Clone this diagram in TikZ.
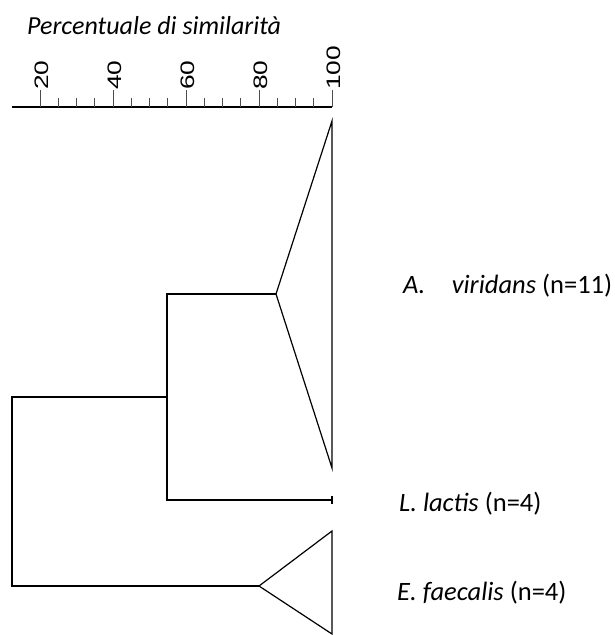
\documentclass[tikz,border=0pt]{standalone}
\usepackage{fontspec}
\setmainfont{Carlito}
\newfontfamily\axisfont{Liberation Sans}
\begin{document}
\begin{tikzpicture}[x=1pt,y=-1pt,
  tree/.style={line width=1.2pt,black,line join=miter},
  axisline/.style={line width=1.2pt,black},
  tickmark/.style={line width=0.9pt,black!70},
  ticklab/.style={anchor=base west,inner sep=0pt,rotate=90,font=\axisfont\fontsize{19.5}{20}\selectfont},
  lab/.style={anchor=base west,inner sep=0pt,font=\fontsize{26.5}{30}\selectfont},
  ttl/.style={anchor=base west,inner sep=0pt,font=\fontsize{26}{30}\selectfont\itshape}]
\useasboundingbox (0,0) rectangle (614,635);
% title
\node[ttl] (title) at (27,34) {Percentuale di similarità};
% axis
\coordinate (axL) at (12,107);
\coordinate (axR) at (332,107);
\draw[axisline] (axL) -- (axR);
\foreach \v in {20,25,...,100}{
  \pgfmathsetmacro{\xx}{40+(\v-20)*3.65}
  \pgfmathtruncatemacro{\isMajor}{mod(\v,20)==0 ? 1 : 0}
  \ifnum\isMajor=1
    \draw[tickmark] (\xx,107) -- (\xx,90);
  \else
    \draw[tickmark] (\xx,107) -- (\xx,98);
  \fi
}
\foreach \v in {20,40,60,80,100}{
  \pgfmathsetmacro{\xx}{40+(\v-20)*3.65+8.5}
  \node[ticklab] (t\v) at (\xx,90) {\scalebox{1.35}[1]{\v}};
}
% A. viridans cluster
\coordinate (aTop) at (332,121);
\coordinate (aBot) at (332,468);
\coordinate (aV) at (276,294);
\draw[tree] (aTop) -- (aV) -- (aBot) -- cycle;
% L. lactis
\coordinate (lEnd) at (332,500);
\coordinate (lT1) at (332,496);
\coordinate (lT2) at (332,504);
\draw[tree] (lT1) -- (lT2);
% inner node
\coordinate (n1a) at (167,294);
\coordinate (n1b) at (167,500);
\draw[tree] (aV) -- (n1a) -- (n1b) -- (lEnd);
% E. faecalis cluster
\coordinate (eTop) at (332,531);
\coordinate (eBot) at (332,634);
\coordinate (eV) at (259,586);
\draw[tree] (eTop) -- (eV) -- (eBot) -- cycle;
% root
\coordinate (n1m) at (167,397);
\coordinate (r1) at (12,397);
\coordinate (r2) at (12,586);
\draw[tree] (n1m) -- (r1) -- (r2) -- (eV);
% labels
\node[lab] (la) at (403,293) {\textit{A.}\hspace{1.0em}\textit{viridans} (n=11)};
\node[lab] (ll) at (399,511) {\textit{L. lactis} (n=4)};
\node[lab] (le) at (397,600) {\textit{E. faecalis} (n=4)};
\end{tikzpicture}
\end{document}
